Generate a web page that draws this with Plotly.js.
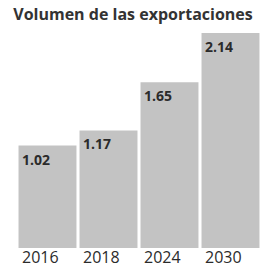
<!DOCTYPE html>
<html>
<head>
<meta charset="utf-8">
<script src="https://cdn.plot.ly/plotly-3.0.1.min.js"></script>
<style>html,body{margin:0;padding:0;background:#fff;}#chart{width:266px;height:268px;}</style>
</head>
<body>
<div id="chart"></div>
<script>
const years = ["2016", "2018", "2024", "2030"];
const values = [1.02, 1.17, 1.65, 2.14];
const valueLabels = ["1.02", "1.17", "1.65", "2.14"];
const chartTitle = "Volumen de las exportaciones";

const barColor = "#c3c3c3";
const textColor = "#2b2b2b";
const pos = years.map((_, i) => i);

const annotations = [];
years.forEach((yr, i) => {
  annotations.push({
    x: pos[i], y: values[i], xref: "x", yref: "y",
    text: "<b>" + valueLabels[i] + "</b>",
    showarrow: false, xanchor: "left", yanchor: "top",
    xshift: -28, yshift: -2,
    font: {family: "Open Sans", size: 14, color: textColor}
  });
  annotations.push({
    x: pos[i], y: 0, xref: "x", yref: "y",
    text: yr,
    showarrow: false, xanchor: "left", yanchor: "top",
    xshift: -28, yshift: 4,
    font: {family: "Open Sans", size: 16, color: textColor}
  });
});

const data = [{
  type: "bar",
  x: pos,
  y: values,
  width: 0.95,
  marker: {color: barColor, line: {width: 0}},
  hoverinfo: "none"
}];

const layout = {
  width: 266, height: 268,
  margin: {l: 17, r: 5, t: 33, b: 20, pad: 0},
  paper_bgcolor: "#ffffff",
  plot_bgcolor: "#ffffff",
  title: {
    text: "<b>" + chartTitle + "</b>",
    font: {family: "Open Sans", size: 16, color: "#333333"},
    x: 0.5, xanchor: "center", xref: "container",
    y: 1, yref: "container", yanchor: "top", pad: {t: 9}
  },
  xaxis: {type: "linear", range: [-0.5, 3.5], showticklabels: false, showgrid: false, zeroline: false, showline: false, ticks: ""},
  yaxis: {type: "linear", range: [0, 2.14], showticklabels: false, showgrid: false, zeroline: false, showline: false, ticks: ""},
  showlegend: false,
  annotations: annotations
};

Plotly.newPlot("chart", data, layout, {displayModeBar: false, staticPlot: true});
</script>
</body>
</html>
